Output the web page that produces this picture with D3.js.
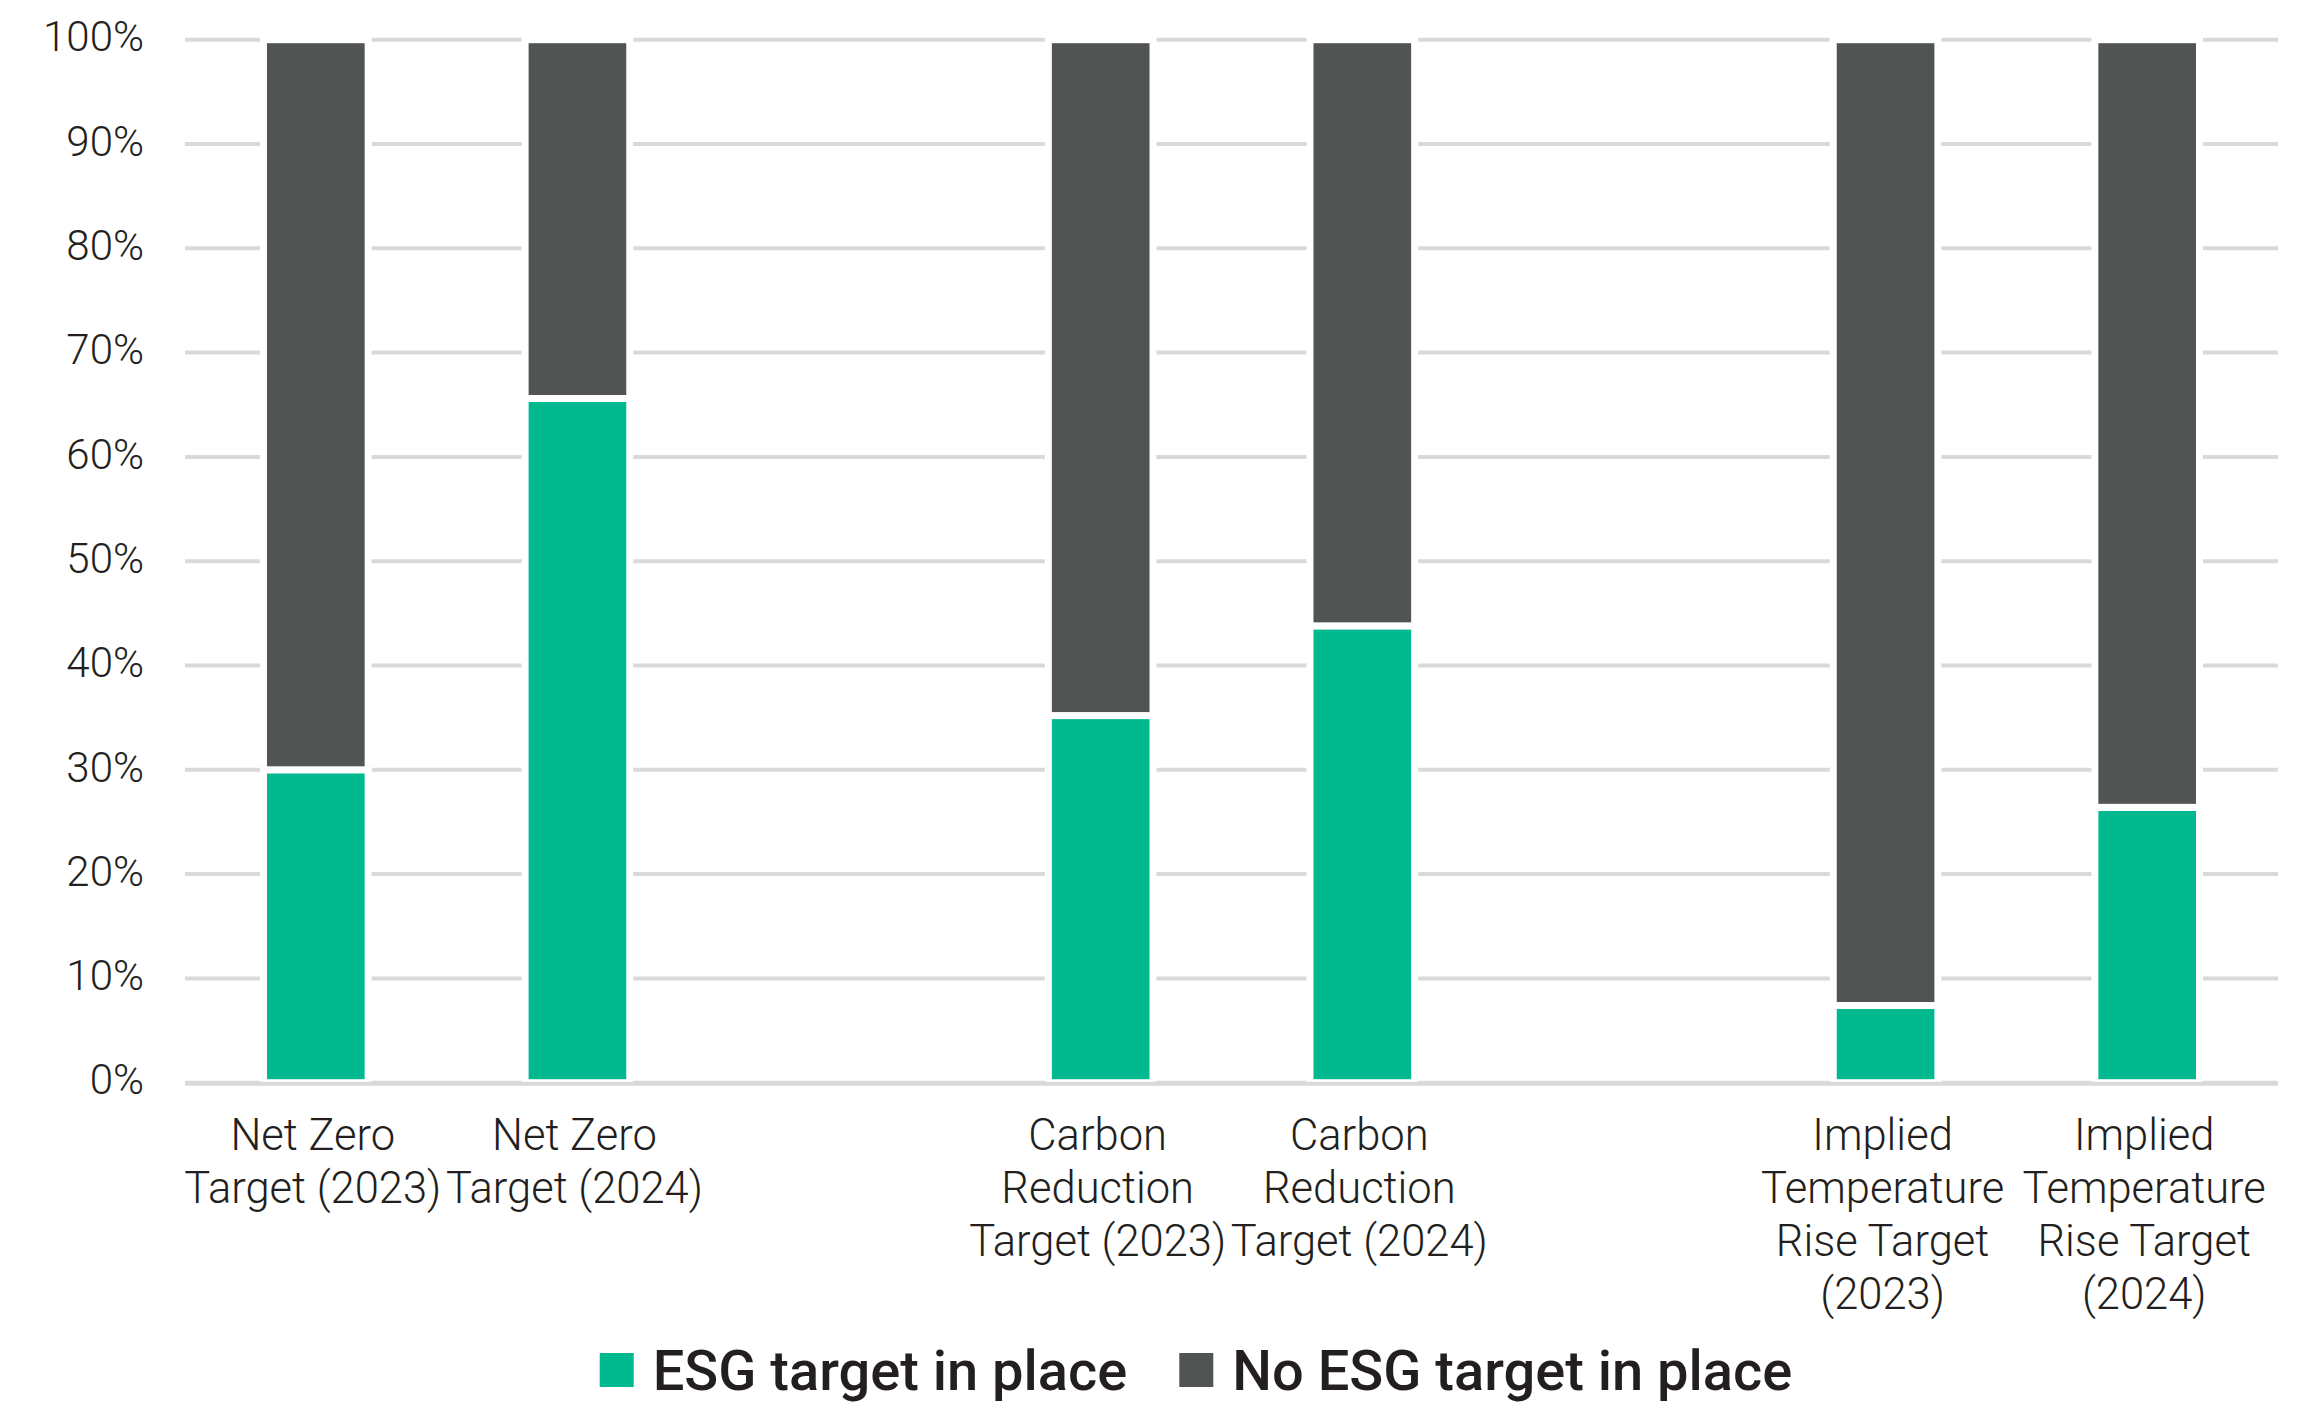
<!DOCTYPE html>
<html>
<head>
<meta charset="utf-8">
<script src="https://cdn.jsdelivr.net/npm/d3@7"></script>
<style>
  body { margin: 0; background: #fff; }
  svg { display: block; font-family: Roboto, "Liberation Sans", sans-serif; }
</style>
</head>
<body>
<svg id="chart" width="2304" height="1406"></svg>
<script>
// chart values
const categories = [
    'Net Zero Target (2023)', 'Net Zero Target (2024)',
    'Carbon Reduction Target (2023)', 'Carbon Reduction Target (2024)',
    'Implied Temperature Rise Target (2023)', 'Implied Temperature Rise Target (2024)'
];
// slot order with empty gaps between the groups
const slots = [
    'Net Zero Target (2023)', 'Net Zero Target (2024)', 'gap-1',
    'Carbon Reduction Target (2023)', 'Carbon Reduction Target (2024)', 'gap-2',
    'Implied Temperature Rise Target (2023)', 'Implied Temperature Rise Target (2024)'
];
const labelLines = [
    ['Net Zero', 'Target (2023)'],
    ['Net Zero', 'Target (2024)'],
    ['Carbon', 'Reduction', 'Target (2023)'],
    ['Carbon', 'Reduction', 'Target (2024)'],
    ['Implied', 'Temperature', 'Rise Target', '(2023)'],
    ['Implied', 'Temperature', 'Rise Target', '(2024)']
];
const esgInPlace = [30, 65.6, 35.2, 43.8, 7.4, 26.4];
const noEsgInPlace = [70, 34.4, 64.8, 56.2, 92.6, 73.6];
const seriesNames = ['ESG target in place', 'No ESG target in place'];
const seriesColors = ['#00b98e', '#505453'];
const yTicks = [0, 10, 20, 30, 40, 50, 60, 70, 80, 90, 100];

const svg = d3.select('#chart');

// plot area
const plot = { left: 185, right: 2278, top: 39.7, bottom: 1082.7 };

const x = d3.scaleBand()
    .domain(slots)
    .range([plot.left, plot.right])
    .paddingInner(0.6)
    .paddingOuter(0.3);

const y = d3.scaleLinear()
    .domain([0, 100])
    .range([plot.bottom, plot.top]);

// gridlines
svg.append('g')
    .selectAll('line')
    .data(yTicks)
    .join('line')
    .attr('x1', plot.left)
    .attr('x2', plot.right)
    .attr('y1', d => y(d))
    .attr('y2', d => y(d))
    .attr('stroke', '#d9d9d9')
    .attr('stroke-width', 4);

// y axis labels
svg.append('g')
    .selectAll('text')
    .data(yTicks)
    .join('text')
    .attr('x', 144)
    .attr('y', d => y(d))
    .attr('dy', '0.28em')
    .attr('text-anchor', 'end')
    .attr('font-size', 42)
    .attr('font-weight', 300)
    .attr('fill', '#231f20')
    .text(d => d + '%');

// stacked bars
const rows = categories.map((c, i) => ({ cat: c, esg: esgInPlace[i], none: noEsgInPlace[i] }));
const stacked = d3.stack().keys(['esg', 'none'])(rows);

svg.append('g')
    .selectAll('g')
    .data(stacked)
    .join('g')
    .attr('fill', (d, i) => seriesColors[i])
    .selectAll('rect')
    .data(d => d)
    .join('rect')
    .attr('x', d => x(d.data.cat))
    .attr('width', x.bandwidth())
    .attr('y', d => y(d[1]))
    .attr('height', d => y(d[0]) - y(d[1]))
    .attr('stroke', '#fff')
    .attr('stroke-width', 7);

// baseline sits over the bar bottoms
svg.append('line')
    .attr('x1', plot.left)
    .attr('x2', plot.right)
    .attr('y1', y(0) + 1)
    .attr('y2', y(0) + 1)
    .attr('stroke', '#d9d9d9')
    .attr('stroke-width', 4);

// category labels
const catLabels = svg.append('g')
    .attr('font-size', 43.5)
    .attr('font-weight', 300)
    .attr('fill', '#231f20')
    .attr('text-anchor', 'middle');

categories.forEach((c, i) => {
    const cx = x(c) + x.bandwidth() / 2 - 3;
    const t = catLabels.append('text')
        .attr('x', cx)
        .attr('y', 1134);
    labelLines[i].forEach((line, j) => {
        t.append('tspan')
            .attr('x', cx)
            .attr('y', 1134 + j * 53)
            .attr('dy', '0.36em')
            .text(line);
    });
});

// legend, centred under the chart
const legend = svg.append('g');
let lx = 0;
seriesNames.forEach((name, i) => {
    const item = legend.append('g').attr('transform', `translate(${lx},0)`);
    item.append('rect')
        .attr('x', 0)
        .attr('y', -17)
        .attr('width', 34)
        .attr('height', 34)
        .attr('fill', seriesColors[i]);
    const txt = item.append('text')
        .attr('x', 53)
        .attr('y', 0)
        .attr('dy', '0.36em')
        .attr('font-size', 56)
        .attr('font-weight', 500)
        .attr('fill', '#231f20')
        .text(name);
    lx += 53 + txt.node().getComputedTextLength() + 52;
});
const legendWidth = lx - 52;
legend.attr('transform', `translate(${1196 - legendWidth / 2},1370)`);
</script>
</body>
</html>
